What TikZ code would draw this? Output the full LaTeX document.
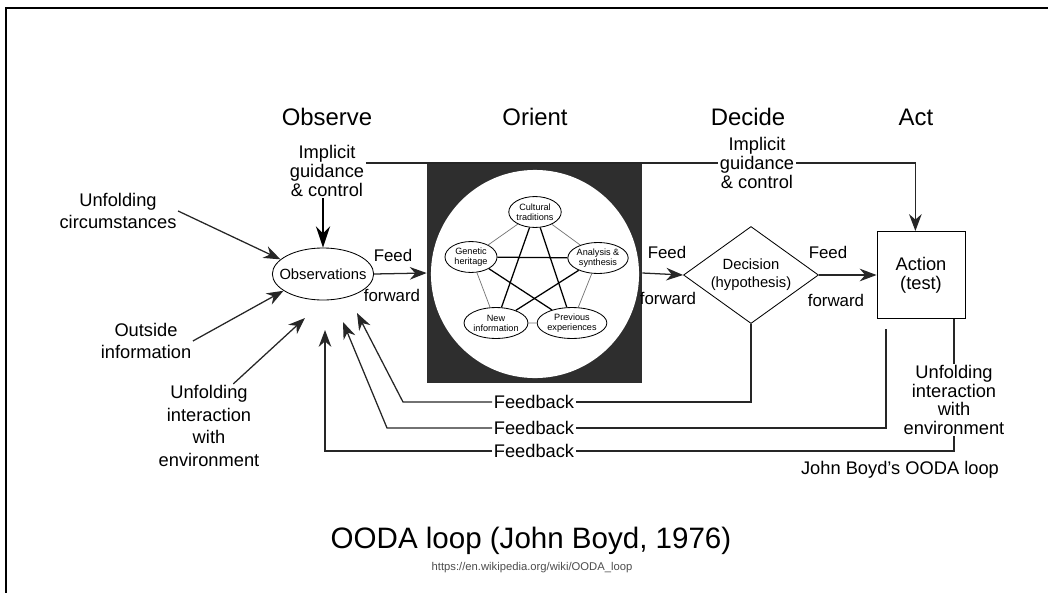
\documentclass[tikz,border=0pt]{standalone}
\usepackage{fontspec}
\setmainfont{Liberation Sans}
\usetikzlibrary{shapes.geometric,arrows.meta}

\begin{document}
\begin{tikzpicture}[x=0.025cm, y=-0.025cm,
  every node/.style={align=center, inner sep=1pt, font=\fontsize{13}{13.3}\selectfont},
  wide/.style={font=\fontsize{13}{16}\selectfont},
  phase/.style={font=\fontsize{17}{20}\selectfont},
  feed/.style={font=\fontsize{12}{14}\selectfont},
  factor/.style={ellipse, draw, line width=0.6pt, minimum width=37pt, minimum height=22pt,
    inner sep=0pt, font=\fontsize{6.5}{7}\selectfont},
  line/.style={draw=black!85, line width=0.9pt},
  arr/.style={line, -{Stealth[length=12pt,width=9pt]}},
  fb/.style={fill=white}]

\useasboundingbox (0,0) rectangle (1048,593);
\draw[line width=1.5pt] (6,593) -- (6,8) -- (1048,8);

% Phase headings
\node[phase] (hobs) at (327,117) {Observe};
\node[phase] (hori) at (535,117) {Orient};
\node[phase] (hdec) at (748,117) {Decide};
\node[phase] (hact) at (916,117) {Act};

% Main nodes
\node[ellipse, draw, line width=0.6pt, inner xsep=-7pt, inner ysep=0pt, minimum width=72pt,
  minimum height=37pt, font=\fontsize{10.5}{12}\selectfont] (obs) at (323,274) {Observations};
\node[fill=black!82, minimum width=153pt, minimum height=156pt] (ori) at (534.5,273) {};
\node[circle, fill=white, minimum size=148pt] (disc) at (535,274) {};
\node[diamond, draw, line width=0.6pt, aspect=1.4, inner sep=0pt, minimum width=96pt,
  minimum height=69pt, font=\fontsize{10.5}{13}\selectfont] (dec) at (751,275) {Decision\\(hypothesis)};
\node[draw, line width=0.6pt, minimum width=62.6pt, minimum height=62pt] (act) at (921,275) {Action\\(test)};

% Orientation factors
\node[factor] (cul) at (535,212) {Cultural\\traditions};
\node[factor] (gen) at (471,257) {Genetic\\heritage};
\node[factor] (ana) at (598,258) {Analysis \&\\synthesis};
\node[factor] (new) at (496,323) {New\\information};
\node[factor] (pre) at (572,323) {Previous\\experiences};

\draw[black!55, line width=0.5pt] (cul) -- (gen) -- (new) -- (pre) -- (ana) -- (cul);
\draw[line width=0.9pt] (cul) -- (new);
\draw[line width=0.9pt] (cul) -- (pre);
\draw[line width=0.9pt] (gen) -- (ana);
\draw[line width=0.9pt] (gen) -- (pre);
\draw[line width=0.9pt] (ana) -- (new);

% Inputs
\node (igl) at (327,171) {Implicit\\guidance\\\& control};
\node[wide] (uc) at (118,211) {Unfolding\\circumstances};
\node[wide] (oi) at (146,341) {Outside\\information};
\node[wide] (uil) at (209,426) {Unfolding\\interaction\\with\\environment};

\coordinate (t0) at (305,318);
\coordinate (t1) at (357,313);
\coordinate (t2) at (343,322);
\coordinate (t3) at (325,330);
\coordinate (fb2top) at (886,329);

\draw[arr] (uc.east) -- (obs.161);
\draw[arr] (oi.east) -- (obs.203);
\draw[arr] (uil.60) -- (t0);
\draw[line width=2pt, -{Stealth[length=15pt,width=10pt]}] (igl.south -| obs.north) -- (obs.north);
\draw[arr] (igl.east |- 0,163) -| ([xshift=-4pt]act.north);
\node[fill=white] (igr) at (757,163) {Implicit\\guidance\\\& control};

% Feed forward
\draw[arr] (obs.east) -- (ori.west);
\draw[arr] (ori.east) -- (dec.west);
\draw[arr] (dec.east) -- (act.west);
\node[feed] (feed1) at (393,255) {Feed};
\node[feed] (fwd1) at (392,295) {forward};
\node[feed] (feed2) at (667,252) {Feed};
\node[feed] (fwd2) at (668,298) {forward};
\node[feed] (feed3) at (828,252) {Feed};
\node[feed] (fwd3) at (836,300) {forward};

% Feedback
\node[fb] (fb1) at (534,402) {Feedback};
\node[fb] (fb2) at (534,428) {Feedback};
\node[fb] (fb3) at (534,451) {Feedback};
\node (uir) at (954,400) {Unfolding\\interaction\\with\\environment};

\draw[line] (dec.south) |- (fb1.east);
\draw[arr] (fb1.west) -- (403,402) -- (t1);
\draw[line] (fb2top) |- (fb2.east);
\draw[arr] (fb2.west) -- (387,428) -- (t2);
\draw[line] (uir.north |- act.south) -- (uir.north);
\draw[line] (uir.south) |- (fb3.east);
\draw[arr] (fb3.west) -| (t3);

\node (jb) at (900,470) {John Boyd's OODA loop};
\node[font=\fontsize{21}{24}\selectfont] (title) at (531,541) {OODA loop (John Boyd, 1976)};
\node[font=\fontsize{8}{9}\selectfont, text=black!70] (url) at (532,568) {https://en.wikipedia.org/wiki/OODA\_loop};

\end{tikzpicture}
\end{document}
